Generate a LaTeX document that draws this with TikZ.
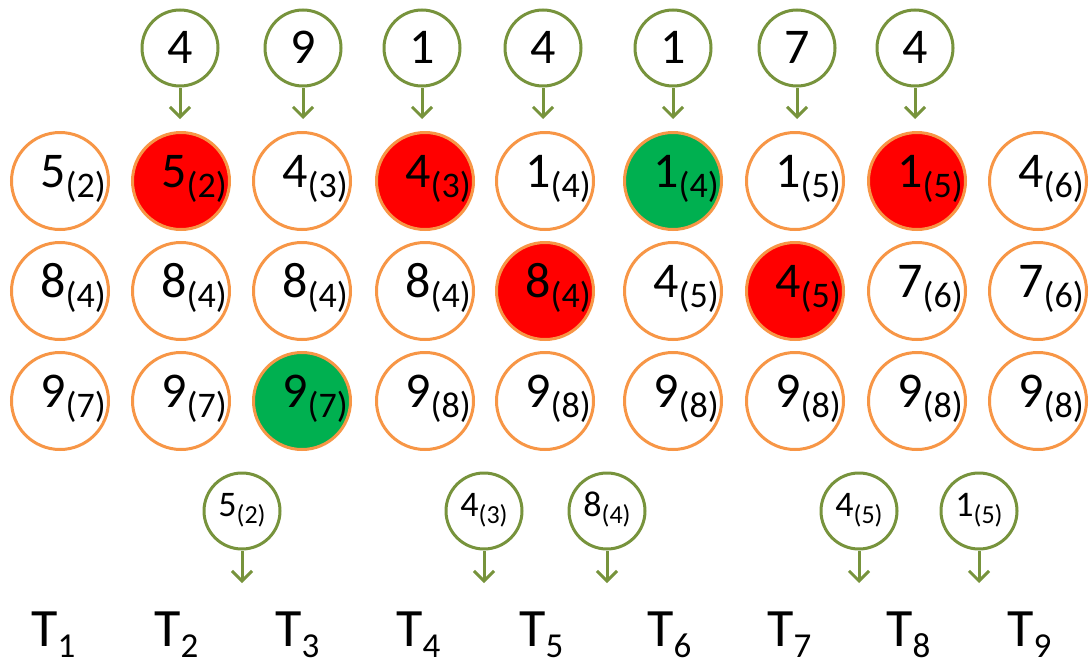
\documentclass[tikz,border=0pt]{standalone}
\usepackage{fontspec}
\setmainfont{Carlito}
\usetikzlibrary{arrows.meta,calc}
\definecolor{orangeC}{HTML}{F79646}
\definecolor{greenC}{HTML}{77933C}
\definecolor{redF}{HTML}{FF0000}
\definecolor{greenF}{HTML}{00B050}
\newcommand\cellval[2]{\fontsize{50}{50}\selectfont #1\raisebox{-10pt}{\fontsize{36}{36}\selectfont(#2)}}
\newcommand\smallval[2]{\fontsize{36}{36}\selectfont #1\raisebox{-7pt}{\fontsize{26}{26}\selectfont(#2)}}
\newcommand\tlab[1]{\fontsize{54}{54}\selectfont T\raisebox{-11pt}{\fontsize{35}{35}\selectfont #1}}
\tikzset{
  cell/.style={circle, draw=orangeC, line width=3pt, minimum size=97pt, inner sep=0pt},
  inp/.style={circle, draw=greenC, line width=3pt, minimum size=76pt, inner sep=0pt, fill=white},
  arr/.style={draw=greenC, line width=3pt, -{Straight Barb[length=10pt,width=20pt]}},
  lbl/.style={anchor=base, inner sep=0pt, text=black},
  tl/.style={anchor=base west, inner sep=0pt, text=black},
}
\begin{document}
\begin{tikzpicture}[x=1pt,y=-1pt]
\useasboundingbox (0,0) rectangle (1089,664);
\foreach \c/\x in {1/60,2/181,3/302,4/425,5/545,6/673,7/795,8/917,9/1038}{
  \foreach \r/\y in {1/181,2/291,3/401}{
    \coordinate (p\r\c) at (\x,\y);
  }
}
\foreach \r/\c/\v/\s/\f in {
  1/1/5/2/white, 1/2/5/2/redF, 1/3/4/3/white, 1/4/4/3/redF, 1/5/1/4/white,
  1/6/1/4/greenF, 1/7/1/5/white, 1/8/1/5/redF, 1/9/4/6/white,
  2/1/8/4/white, 2/2/8/4/white, 2/3/8/4/white, 2/4/8/4/white, 2/5/8/4/redF,
  2/6/4/5/white, 2/7/4/5/redF, 2/8/7/6/white, 2/9/7/6/white,
  3/1/9/7/white, 3/2/9/7/white, 3/3/9/7/greenF, 3/4/9/8/white, 3/5/9/8/white,
  3/6/9/8/white, 3/7/9/8/white, 3/8/9/8/white, 3/9/9/8/white}{
  \node[cell, fill=\f] (c\r\c) at (p\r\c) {};
  \node[lbl] (l\r\c) at ([shift={(13,6)}]c\r\c.center) {\cellval{\v}{\s}};
}
% top inputs
\foreach \c/\x/\v in {2/180/4, 3/303/9, 4/422/1, 5/543/4, 6/673/1, 7/797/7, 8/915/4}{
  \node[inp] (i\c) at (\x,48) {};
  \node[lbl] (il\c) at ([shift={(0,15.5)}]i\c.center) {\fontsize{50}{50}\selectfont \v};
  \coordinate (ie\c) at (\x,119);
  \draw[arr] (i\c.south) -- (ie\c);
}
% bottom outputs
\foreach \k/\x/\v/\s in {1/242/5/2, 2/484/4/3, 3/607/8/4, 4/859/4/5, 5/979/1/5}{
  \node[inp] (o\k) at (\x,511) {};
  \node[lbl] (ol\k) at ([shift={(0,5)}]o\k.center) {\smallval{\v}{\s}};
  \coordinate (oe\k) at (\x,583);
  \draw[arr] (o\k.south) -- (oe\k);
}
% T labels
\foreach \k/\x in {1/31,2/154,3/275,4/396,5/519,6/647,7/767,8/886,9/1007}{
  \node[tl] (t\k) at (\x,646) {\tlab{\k}};
}
\end{tikzpicture}
\end{document}
